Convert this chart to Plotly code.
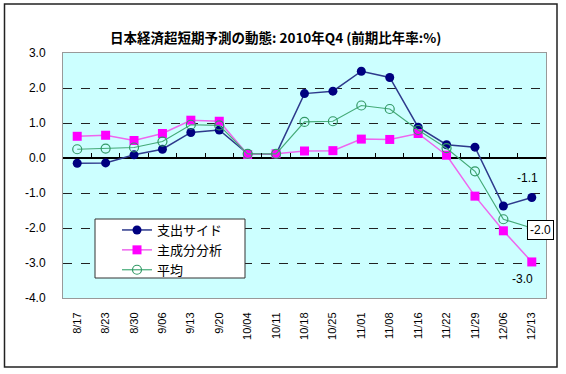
import plotly.graph_objects as go

categories = ["8/17", "8/23", "8/30", "9/06", "9/13", "9/20", "10/04", "10/11", "10/18",
              "10/25", "11/01", "11/08", "11/16", "11/22", "11/29", "12/06", "12/13"]
expenditure = [-0.15, -0.14, 0.09, 0.25, 0.73, 0.80, 0.12, 0.11, 1.84, 1.91, 2.48, 2.30,
               0.88, 0.38, 0.31, -1.37, -1.13]
principal = [0.62, 0.65, 0.50, 0.70, 1.08, 1.05, 0.10, 0.12, 0.20, 0.21, 0.54, 0.53,
             0.70, 0.08, -1.09, -2.08, -2.97]
average = [0.25, 0.27, 0.30, 0.47, 0.95, 0.93, 0.12, 0.12, 1.03, 1.05, 1.50, 1.40,
           0.80, 0.28, -0.38, -1.75, -2.00]
series_names = ["支出サイド", "主成分分析", "平均"]
yticks = [3.0, 2.0, 1.0, 0.0, -1.0, -2.0, -3.0, -4.0]

W, H = 566, 374
L, R, T, B = 63, 546, 53, 298

def px_x(x):
    return (x - L) / (R - L)

def px_y(y):
    return (B - y) / (B - T)

jp = "Noto Sans CJK JP"
num = "Liberation Sans"

n = len(categories)
idx = list(range(n))
boundaries = [i + 0.5 for i in range(n - 1)]

fig = go.Figure()
fig.add_trace(go.Scatter(x=categories, y=expenditure, name=series_names[0], mode="lines+markers",
                         line=dict(color="#2E3A8C", width=1.5),
                         marker=dict(symbol="circle", size=9, color="#000080")))
fig.add_trace(go.Scatter(x=categories, y=principal, name=series_names[1], mode="lines+markers",
                         line=dict(color="#EE66EE", width=1.5),
                         marker=dict(symbol="square", size=9, color="#FF00FF")))
fig.add_trace(go.Scatter(x=categories, y=average, name=series_names[2], mode="lines+markers",
                         line=dict(color="#44AA77", width=1.2),
                         marker=dict(symbol="circle-open", size=9, color="#339966",
                                     line=dict(width=1.2))))
# helper trace for the zero-line tick axis (invisible)
fig.add_trace(go.Scatter(x=idx, y=[0]*n, xaxis="x2", mode="markers",
                         marker=dict(opacity=0), showlegend=False, hoverinfo="skip"))

fig.update_layout(
    width=W, height=H,
    margin=dict(l=L, r=W - R, t=T, b=H - B),
    paper_bgcolor="white",
    plot_bgcolor="#CCFFFF",
    showlegend=True,
    legend=dict(x=px_x(117), y=px_y(215), xanchor="left", yanchor="top",
                bgcolor="rgba(0,0,0,0)", borderwidth=0,
                font=dict(family=jp, size=13, color="black"),
                tracegroupgap=0, itemwidth=30),
    xaxis=dict(type="category", range=[-0.5, n - 0.5], showgrid=False, zeroline=False,
               tickangle=-90, tickfont=dict(family=num, size=11, color="black"),
               ticks="", showline=True, linecolor="#999999", mirror=True,
               ticklabelstandoff=9),
    xaxis2=dict(type="linear", range=[-0.5, n - 0.5], overlaying="x", anchor="free",
                position=4/7, side="top", tickmode="array", tickvals=boundaries,
                showticklabels=False, ticks="outside", ticklen=5,
                tickwidth=1, tickcolor="black", showgrid=False,
                zeroline=False, showline=False),
    yaxis=dict(range=[-4, 3], tickvals=yticks, ticktext=[f"{v:.1f}" for v in yticks],
               tickfont=dict(family=num, size=12, color="black"),
               showgrid=True, gridcolor="#222222", griddash="dash", gridwidth=1,
               zeroline=True, zerolinecolor="black", zerolinewidth=1.5,
               showline=True, linecolor="#999999", mirror=True,
               ticks="", ticklabelstandoff=14),
    annotations=[
        dict(text="<b>日本経済超短期予測の動態: 2010年Q4 (前期比年率:%)</b>", xref="paper", yref="paper",
             x=px_x(275), y=px_y(25), showarrow=False,
             font=dict(family=jp, size=13.5, color="black")),
        dict(text="-1.1", x=categories[-1], y=expenditure[-1], xref="x", yref="y",
             showarrow=False, xshift=-4, yshift=20,
             font=dict(family=num, size=12, color="black")),
        dict(text="-2.0", x=categories[-1], y=average[-1], xref="x", yref="y",
             showarrow=False, xshift=9, yshift=-2, bgcolor="white", bordercolor="black",
             borderwidth=1, borderpad=2,
             font=dict(family=num, size=12, color="black")),
        dict(text="-3.0", x=categories[-1], y=principal[-1], xref="x", yref="y",
             showarrow=False, xshift=-9, yshift=-17,
             font=dict(family=num, size=12, color="black")),
    ],
    shapes=[
        dict(type="rect", xref="paper", yref="paper",
             x0=px_x(4.5), x1=px_x(557), y0=px_y(367), y1=px_y(4),
             line=dict(color="#222222", width=1.5), fillcolor="rgba(0,0,0,0)", layer="below"),
        # legend box
        dict(type="rect", xref="paper", yref="paper",
             x0=px_x(95), x1=px_x(245), y0=px_y(278), y1=px_y(219),
             line=dict(color="#333333", width=1), fillcolor="white", layer="above"),
    ],
)

fig.write_html("out.html", config={"displayModeBar": False},
               post_script="document.body.style.margin='0';document.body.style.padding='0';")
